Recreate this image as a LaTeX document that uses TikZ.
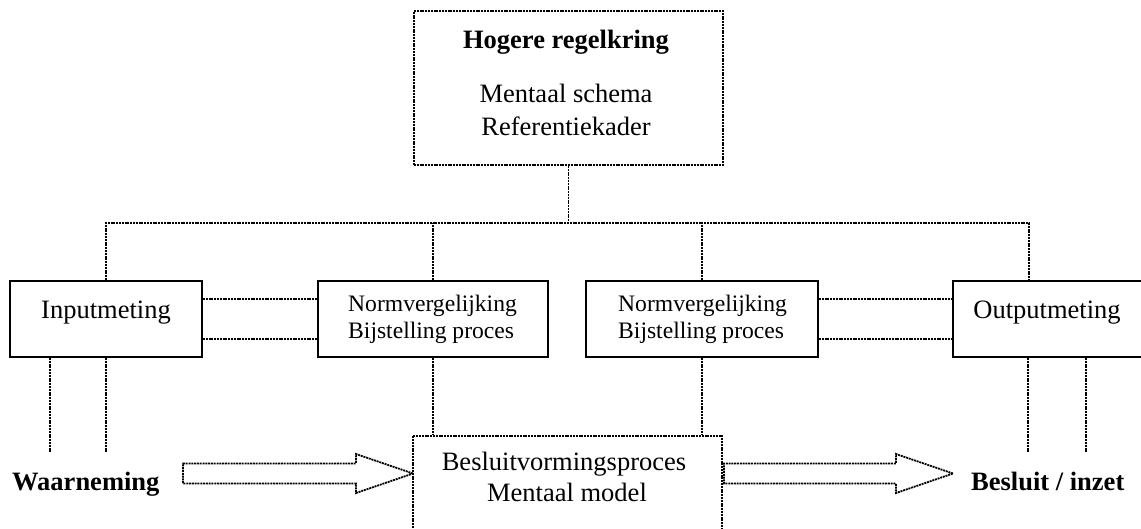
\documentclass[tikz,border=0pt]{standalone}
\usepackage{fontspec}
\setmainfont{Liberation Serif}

\begin{document}
\begin{tikzpicture}[x=1pt, y=-1pt,
    stip/.style={line width=1.8pt, dash pattern=on 2pt off 0.8pt},
    blok/.style={draw, line width=2pt, inner sep=0pt, minimum height=76pt},
    tekst/.style={font=\fontsize{26.5}{32}\selectfont, inner sep=0pt, anchor=base},
    klein/.style={font=\fontsize{23.6}{28}\selectfont, inner sep=0pt, anchor=base west}]
    \useasboundingbox (0,0) rectangle (1141,528);

    % hogere regelkring
    \node[draw, stip, minimum width=309pt, minimum height=154pt] (hoger) at (568.5,88) {};
    \node[tekst, font=\fontsize{26.5}{32}\selectfont\bfseries] (hogerA) at (566,48) {Hogere regelkring};
    \node[tekst] (hogerB) at (566,102) {Mentaal schema};
    \node[tekst] (hogerC) at (566,135) {Referentiekader};

    % middelste rij
    \node[blok, minimum width=192pt] (input) at (106,319) {};
    \node[tekst] (inputT) at (106,318) {Inputmeting};
    \node[blok, minimum width=230pt] (norm1) at (433,319) {};
    \node[klein] (norm1A) at (348,311) {Normvergelijking};
    \node[klein] (norm1B) at (348,338) {Bijstelling proces};
    \node[blok, minimum width=232pt] (norm2) at (702,319) {};
    \node[klein] (norm2A) at (618,311) {Normvergelijking};
    \node[klein] (norm2B) at (618,338) {Bijstelling proces};
    \node[blok, minimum width=190pt] (output) at (1048,319) {};
    \node[tekst] (outputT) at (1047,318) {Outputmeting};

    % besluitvorming
    \node[draw, stip, minimum width=309pt, minimum height=104pt] (besluit) at (567.5,488) {};
    \node[tekst] (besluitA) at (564,470) {Besluitvormingsproces};
    \node[tekst] (besluitB) at (567,501) {Mentaal model};
    \node[tekst, anchor=base west, font=\fontsize{26.5}{32}\selectfont\bfseries] (waarn) at (12,490) {Waarneming};
    \node[tekst, anchor=base west, font=\fontsize{26.5}{32}\selectfont\bfseries] (inzet) at (971,490) {Besluit / inzet};

    % verbindingen
    \coordinate (busL) at (106,223);
    \coordinate (busR) at (1029,223);
    \coordinate (outtop) at (1029,281);
    \draw[stip] (hoger.south) -- (hoger.south |- busL);
    \draw[stip] (input.north) -- (busL) -- (busR) -- (outtop);
    \draw[stip] (norm1.north) -- (norm1.north |- busL);
    \draw[stip] (norm2.north) -- (norm2.north |- busL);
    \foreach \dy in {20,-20} {
        \draw[stip] ([yshift=\dy pt]input.east) -- ([yshift=\dy pt]norm1.west);
        \draw[stip] ([yshift=\dy pt]norm2.east) -- ([yshift=\dy pt]output.west);
    }
    \draw[stip] (norm1.south) -- (norm1.south |- besluit.north);
    \draw[stip] (norm2.south) -- (norm2.south |- besluit.north);
    \draw[stip] ([xshift=-56pt]input.south) -- ++(0,95);
    \draw[stip] (input.south) -- ++(0,95);
    \draw[stip] ([xshift=76pt]output.south west) -- ++(0,95);
    \draw[stip] ([xshift=134pt]output.south west) -- ++(0,95);

    % blokpijlen
    \coordinate (pijlL) at (413,473.5);
    \coordinate (pijlR) at (953,473.5);
    \foreach \tip/\len in {pijlL/173, pijlR/172} {
        \draw[stip] (\tip) -- ++(-57,-19.5) -- ++(0,9.5) -- ++(-\len,0) -- ++(0,20)
            -- ++(\len,0) -- ++(0,9.5) -- cycle;
    }
\end{tikzpicture}
\end{document}
